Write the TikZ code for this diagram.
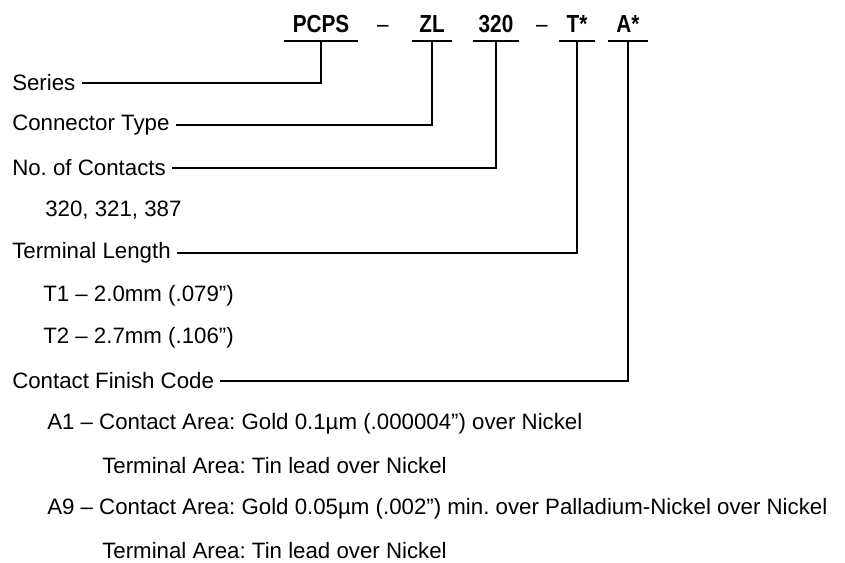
\documentclass[tikz,border=0pt]{standalone}
\usepackage{fontspec}
\setmainfont{Liberation Sans}
\newfontfamily\codefont[FakeStretch=0.84,Ligatures=TeX]{Liberation Sans}
\usetikzlibrary{positioning}

\begin{document}
\frenchspacing
\begin{tikzpicture}[
  x=0.75pt, y=-0.75pt,
  font=\fontsize{16.7}{20}\selectfont,
  code/.style={font=\fontsize{18.5}{21}\codefont\bfseries, anchor=south,
               inner xsep=0pt, inner ysep=6pt, text height=13pt, text depth=0pt,
               minimum width={#1*0.75pt}},
  uline/.style={line width=2.2pt},
  lbl/.style={anchor=west, inner xsep=4.5pt, inner ysep=1pt},
  lead/.style={line width=1.1pt},
]
\useasboundingbox (0,0) rectangle (845,562);

% part number
\node[code=74] (pcps)  at (321,41) {PCPS};
\node[code=10] (dashA) at (383,41) {\mdseries --};
\node[code=40] (zl)    at (432,41) {ZL};
\node[code=46] (n320)  at (496,41) {320};
\node[code=10] (dashB) at (542,41) {\mdseries --};
\node[code=36] (tstar) at (577,41) {T*};
\node[code=39] (astar) at (628,41) {A*};

\foreach \c in {pcps,zl,n320,tstar,astar}
  \draw[uline] (\c.south west) -- (\c.south east);

% labels
\node[lbl] (series) at (6,83)   {Series};
\node[lbl] (ctype)  at (6,125)  {Connector Type};
\node[lbl] (ncont)  at (6,168)  {No. of Contacts};
\node[lbl] (clist)  at (39,210) {320, 321, 387};
\node[lbl] (tlen)   at (6,253)  {Terminal Length};
\node[lbl] (tone)   at (37,296) {T1 -- 2.0mm (.079")};
\node[lbl] (ttwo)   at (37,338) {T2 -- 2.7mm (.106")};
\node[lbl] (cfin)   at (6,381)  {Contact Finish Code};
\node[lbl] (aone)   at (41,424) {A1 -- Contact Area: Gold 0.1µm (.000004") over Nickel};
\node[lbl] (aoneT)  at (96,466) {Terminal Area: Tin lead over Nickel};
\node[lbl] (anine)  at (41,509) {A9 -- Contact Area: Gold 0.05µm (.002") min. over Palladium-Nickel over Nickel};
\node[lbl] (anineT) at (96,551) {Terminal Area: Tin lead over Nickel};

% leaders
\draw[lead] (pcps.south)  |- (series.east);
\draw[lead] (zl.south)    |- (ctype.east);
\draw[lead] (n320.south)  |- (ncont.east);
\draw[lead] (tstar.south) |- (tlen.east);
\draw[lead] (astar.south) |- (cfin.east);
\end{tikzpicture}
\end{document}
